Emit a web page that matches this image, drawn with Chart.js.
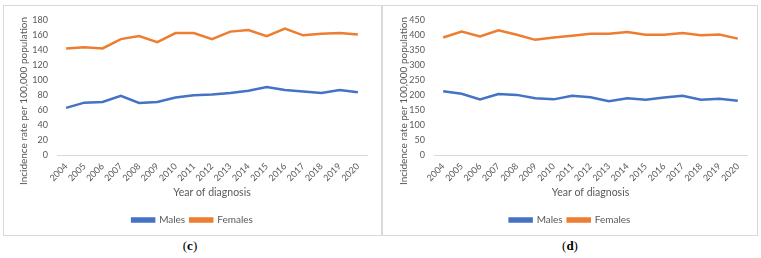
<!DOCTYPE html>
<html>
<head>
<meta charset="utf-8">
<script src="https://cdn.jsdelivr.net/npm/chart.js@4"></script>
<style>
  body { margin: 0; background: #fff; width: 761px; height: 258px; position: relative; font-family: 'Lato', sans-serif; }
  .box { position: absolute; top: 5px; height: 229px; border: 1px solid #d9d9d9; }
  .box canvas { display: block; }
  .lbl { position: absolute; top: 238px; font-family: 'Liberation Serif', serif; font-size: 13px; color: #000; width: 40px; text-align: center; }
</style>
</head>
<body>
<div class="box" style="left:3px; width:377px;"><canvas id="chartC" width="377" height="229"></canvas></div>
<div class="box" style="left:382px; width:374px;"><canvas id="chartD" width="374" height="229"></canvas></div>
<div class="lbl" style="left:170px;">(<b>c</b>)</div>
<div class="lbl" style="left:550px;">(<b>d</b>)</div>
<script>
  const years = ['2004', '2005', '2006', '2007', '2008', '2009', '2010', '2011', '2012',
    '2013', '2014', '2015', '2016', '2017', '2018', '2019', '2020'];

  // panel (c)
  const malesC = [63, 70, 71, 79, 69.5, 71, 77, 80, 81, 83, 86, 91, 87, 85, 83, 87, 84];
  const femalesC = [142.5, 144, 142.5, 155, 159, 151, 163, 163, 155, 165, 167, 159, 169, 160, 162, 163, 161];
  const ticksC = { max: 180, step: 20 };

  // panel (d)
  const malesD = [213, 205, 186, 204, 201, 190, 186, 198, 193, 180, 190, 185, 192, 198, 185, 188, 181];
  const femalesD = [393, 413, 396, 417, 402, 385, 393, 399, 405, 405, 411, 402, 402, 408, 400, 403, 389];
  const ticksD = { max: 450, step: 50 };

  const textColor = '#595959';
  const yTitle = 'Incidence rate per 100,000 population';

  // y title drawn by hand so it can run past the plot like the Excel original
  const yTitlePlugin = {
    id: 'yTitle',
    afterDraw(chart, args, opts) {
      const ctx = chart.ctx;
      ctx.save();
      ctx.translate(opts.x, opts.y);
      ctx.rotate(-Math.PI / 2);
      ctx.font = '10px Lato';
      ctx.fillStyle = textColor;
      ctx.textAlign = 'center';
      ctx.textBaseline = 'middle';
      ctx.fillText(yTitle, 0, 0);
      ctx.restore();
    }
  };

  const createChart = (elementId, males, females, yTicks, yWidth, rightPad, titleX) => {
    const ctx = document.getElementById(elementId).getContext('2d');
    new Chart(ctx, {
      type: 'line',
      data: {
        labels: years,
        datasets: [
          { label: 'Males', data: males, borderColor: '#4472C4', backgroundColor: '#4472C4', borderWidth: 2.5, pointRadius: 0, tension: 0 },
          { label: 'Females', data: females, borderColor: '#ED7D31', backgroundColor: '#ED7D31', borderWidth: 2.5, pointRadius: 0, tension: 0 }
        ]
      },
      plugins: [yTitlePlugin],
      options: {
        responsive: false,
        animation: false,
        layout: { padding: { top: 9, right: 0, bottom: 0, left: 0 } },
        plugins: {
          tooltip: { enabled: false },
          yTitle: { x: titleX, y: 95 },
          legend: {
            position: 'bottom',
            labels: { color: textColor, font: { family: 'Lato', size: 10 }, boxWidth: 22, boxHeight: 3, padding: 5 }
          }
        },
        scales: {
          y: {
            min: 0,
            max: yTicks.max,
            afterFit: (scale) => { scale.width = yWidth; },
            ticks: { stepSize: yTicks.step, autoSkip: false, color: textColor, font: { family: 'Lato', size: 9 }, padding: 9 },
            grid: { display: false, drawTicks: false },
            border: { display: false }
          },
          pad: {
            position: 'right',
            afterFit: (scale) => { scale.width = rightPad; },
            ticks: { display: false },
            grid: { display: false, drawTicks: false },
            border: { display: false }
          },
          x: {
            offset: true,
            afterFit: (scale) => { scale.height = 55; },
            ticks: { autoSkip: false, color: textColor, font: { family: 'Lato', size: 9 }, minRotation: 45, maxRotation: 45, padding: 6 },
            grid: { display: false, drawTicks: false },
            border: { display: true, color: '#d9d9d9' },
            title: { display: true, text: 'Year of diagnosis', color: textColor, font: { family: 'Lato', size: 10.5 }, padding: { top: 4, bottom: 11.5 } }
          }
        }
      }
    });
  };

  createChart('chartC', malesC, femalesC, ticksC, 53, 14, 20);
  createChart('chartD', malesD, femalesD, ticksD, 51, 10, 20.5);
</script>
</body>
</html>
